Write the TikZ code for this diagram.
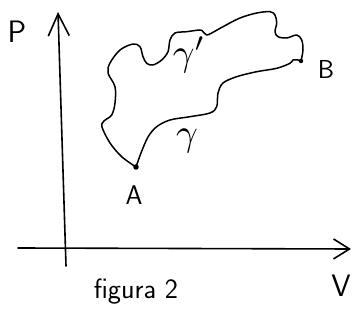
\documentclass[tikz,border=0pt]{standalone}
\usetikzlibrary{arrows.meta}
\begin{document}
\begin{tikzpicture}[x=1pt,y=-1pt,
  pen/.style={line width=1.6pt, line cap=round, line join=round},
  curvepen/.style={pen, line width=1.5pt},
  lbl/.style={inner sep=0pt, font=\sffamily},
  gl/.style={inner sep=0pt},
  dotmark/.style={circle, fill=black, inner sep=0pt, minimum size=5.5pt}]
\useasboundingbox (0,0) rectangle (354,331);
% axes
\coordinate (ybot) at (66,266);
\coordinate (ytop) at (58,12);
\coordinate (xl) at (18,248);
\coordinate (xr) at (351,249);
\draw[pen, -{Straight Barb[length=22pt,width=21pt,line width=1.6pt]}] (ybot) -- (ytop);
\draw[pen, -{Straight Barb[length=16pt,width=20pt,line width=1.6pt]}] (xl) -- (xr);
% end points
\node[dotmark] (A) at (136,167) {};
\node[dotmark, minimum size=4.5pt] (B) at (301,61) {};
% upper path gamma'
\draw[curvepen] plot[smooth, tension=0.55] coordinates {
 (136,167) (121.7,156.7) (110,143) (102,127) (104,121) (111.7,115) (115,103)
 (115,86.7) (108,73) (110,63) (120,50) (133,44) (140,46.7) (143,56.7) (146.7,63.3)
 (153,65) (161.7,60) (168,51.7) (170,40) (175,33) (186.7,31.7) (200,30) (203,31.7)
 (206.7,35) (211.7,33) (223,26.7) (240,18) (256.7,13) (270,11.7) (275,15) (276.7,23)
 (275,31.7) (278,36.7) (286.7,38) (296.7,35) (301.7,40) (303,50) (301,61)};
% lower path gamma
\draw[curvepen] plot[smooth, tension=0.55] coordinates {
 (136,167) (141,153) (148,137) (156.7,126.7) (170,120) (190,116.7) (210,113)
 (216.7,106.7) (218,93) (223,83) (236.7,76.7) (256.7,71.7) (276.7,68.3) (290,63.3)
 (293,60) (298,60) (301,61)};
% labels
\node[lbl, font=\sffamily\fontsize{31}{34}\selectfont] (P) at (17,32) {P};
\node[lbl, font=\sffamily\fontsize{31}{34}\selectfont] (V) at (341,286) {V};
\node[lbl, font=\sffamily\fontsize{27}{30}\selectfont] (Alab) at (134,195) {A};
\node[lbl, font=\sffamily\fontsize{26}{30}\selectfont] (Blab) at (326,69) {B};
\node[gl] (g1) at (189,55) {\scalebox{3.8}{$\gamma'$}};
\node[gl] (g) at (187,141) {\scalebox{3.8}{$\gamma$}};
\node[lbl, font=\sffamily\fontsize{28}{32}\selectfont] (cap) at (136,292) {figura 2};
\end{tikzpicture}
\end{document}
